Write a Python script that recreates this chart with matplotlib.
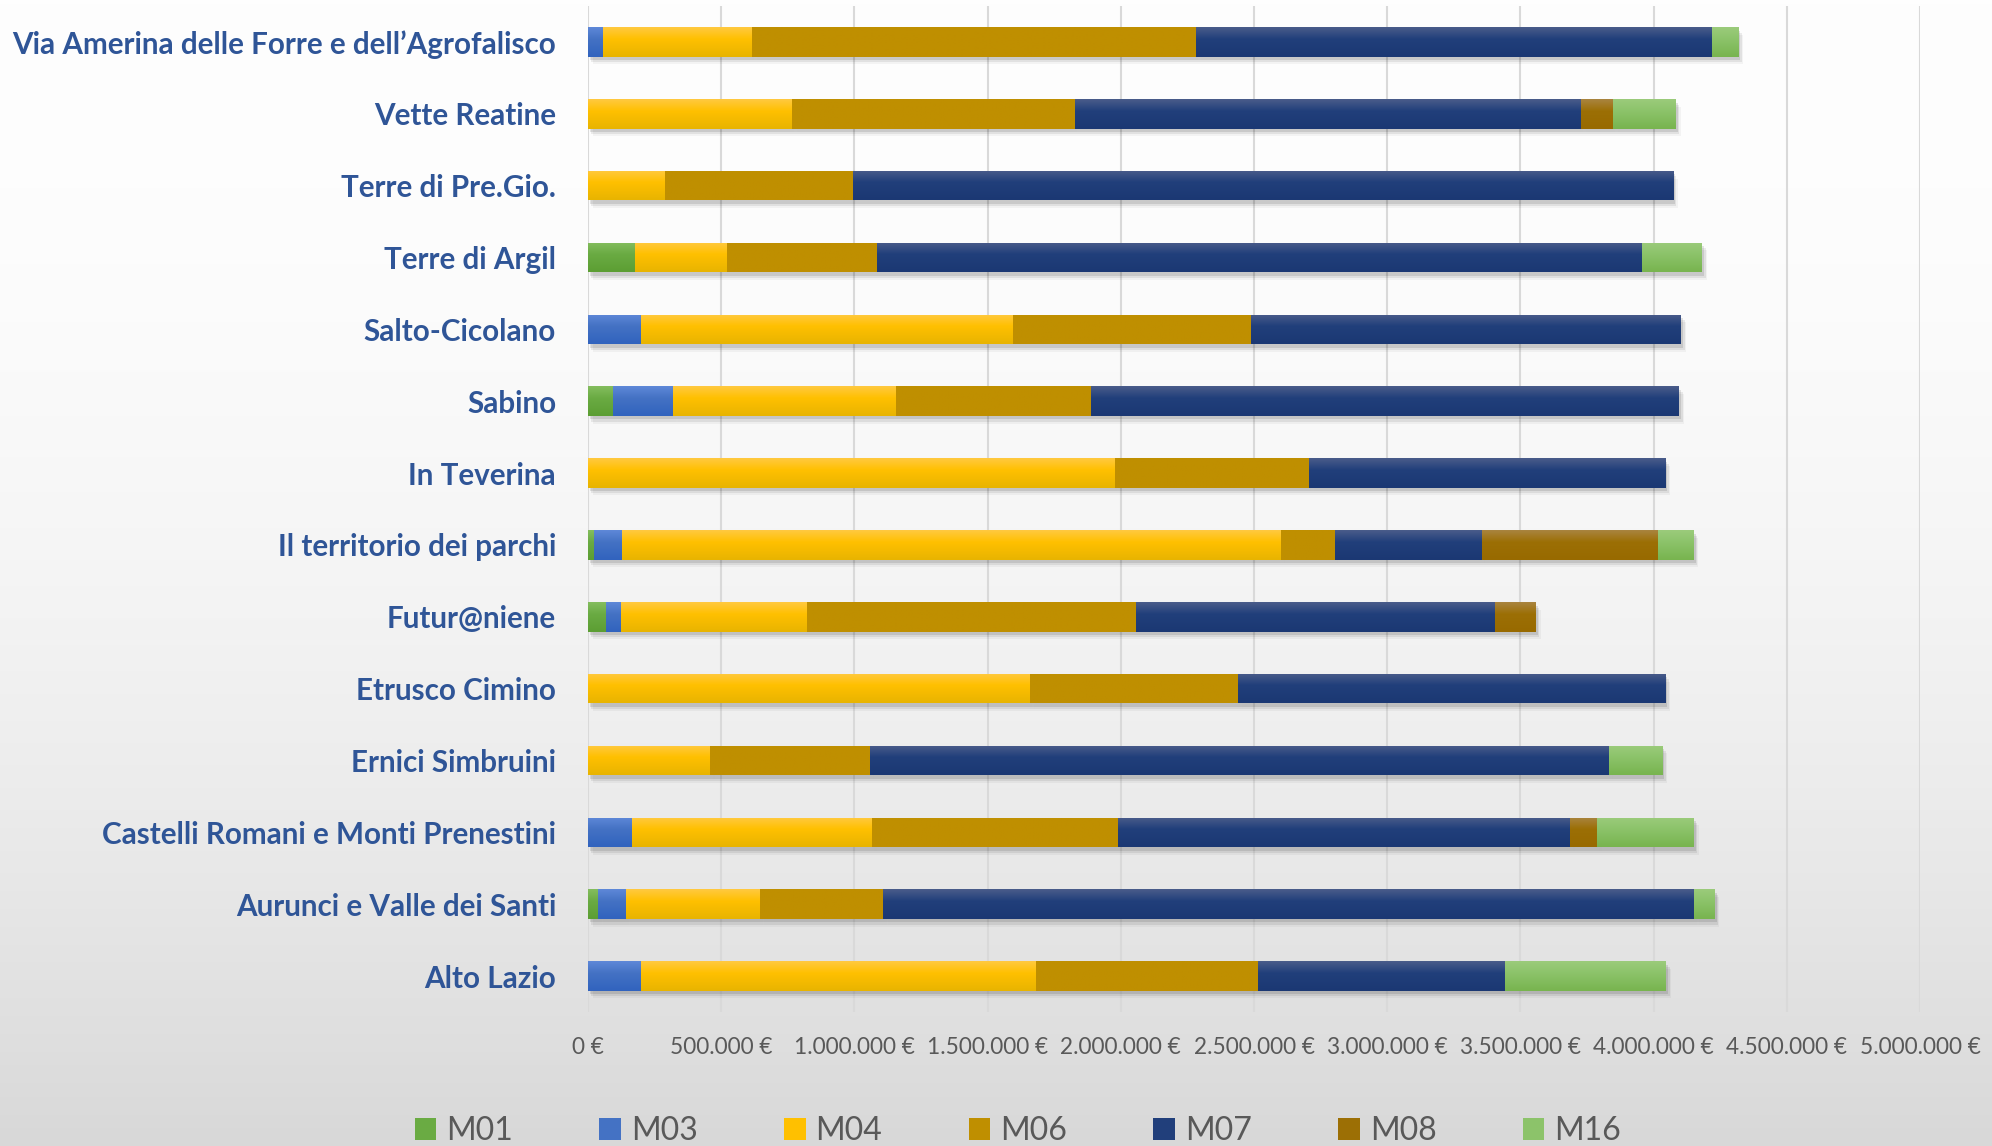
import numpy as np
import matplotlib
matplotlib.use('Agg')
import matplotlib.pyplot as plt
import matplotlib.patheffects as pe
from matplotlib.colors import LinearSegmentedColormap
from matplotlib.patches import Patch
from matplotlib.ticker import FuncFormatter

# GAL areas, listed bottom to top
regions = ['Alto Lazio', 'Aurunci e Valle dei Santi', 'Castelli Romani e Monti Prenestini',
           'Ernici Simbruini', 'Etrusco Cimino', 'Futur@niene', 'Il territorio dei parchi',
           'In Teverina', 'Sabino', 'Salto-Cicolano', 'Terre di Argil', 'Terre di Pre.Gio.',
           'Vette Reatine', 'Via Amerina delle Forre e dell\u2019Agrofalisco']

# amounts per measure (EUR)
M01 = [0, 38000, 0, 0, 0, 69000, 23000, 0, 95000, 0, 175000, 0, 0, 0]
M03 = [198000, 103000, 164000, 0, 0, 54000, 104000, 0, 224000, 198000, 0, 0, 0, 56000]
M04 = [1482000, 503000, 902000, 457000, 1660000, 698000, 2476000, 1979000, 839000, 1399000, 348000, 290000, 767000, 560000]
M06 = [836000, 465000, 922000, 600000, 781000, 1235000, 201000, 727000, 732000, 893000, 563000, 703000, 1060000, 1666000]
M07 = [928000, 3042000, 1700000, 2774000, 1603000, 1350000, 551000, 1338000, 2206000, 1614000, 2872000, 3079000, 1901000, 1936000]
M08 = [0, 0, 101000, 0, 0, 152000, 663000, 0, 0, 0, 0, 0, 121000, 0]
M16 = [603000, 78000, 362000, 201000, 0, 0, 132000, 0, 0, 0, 224000, 0, 235000, 100000]

series = [('M01', M01), ('M03', M03), ('M04', M04), ('M06', M06),
          ('M07', M07), ('M08', M08), ('M16', M16)]

# top / middle / bottom shades for each measure
shades = {
    'M01': ('#84BD5E', '#6AAB43', '#5C9E33'),
    'M03': ('#5E88D8', '#4472C4', '#3163BE'),
    'M04': ('#FFC940', '#FFC000', '#E8B400'),
    'M06': ('#BF8F00', '#BF8F00', '#BF8F00'),
    'M07': ('#4A5C8A', '#213F7B', '#1B3873'),
    'M08': ('#A9843F', '#9C6F05', '#986A00'),
    'M16': ('#9BCB7B', '#8CC36A', '#78B44F'),
}

fig = plt.figure(figsize=(19.92, 11.46), dpi=100)

# soft vertical background fade
bg = fig.add_axes([0, 0, 1, 1], zorder=-1)
t = np.linspace(0, 1, 256)[:, None]
vals = (254 - 38 * t ** 2) / 255.0
bg.imshow(np.dstack([vals, vals, vals]), aspect='auto', extent=[0, 1, 0, 1])
bg.axis('off')

ax = fig.add_axes([588 / 1992, 1 - 1012 / 1146, (1920 - 588) / 1992, (1012 - 6) / 1146])
ax.set_facecolor('none')

y = np.arange(len(regions))
h = 0.41
left = np.zeros(len(regions))
shadow = [pe.SimplePatchShadow(offset=(1.5, -2.5), shadow_rgbFace='k', alpha=0.10),
          pe.SimplePatchShadow(offset=(2.5, -4.0), shadow_rgbFace='k', alpha=0.07),
          pe.SimplePatchShadow(offset=(3.5, -5.5), shadow_rgbFace='k', alpha=0.04),
          pe.Normal()]
grad = np.linspace(0, 1, 64)[:, None]
for name, vals_s in series:
    vals_s = np.array(vals_s, dtype=float)
    top, mid, bot = shades[name]
    cmap = LinearSegmentedColormap.from_list(name, [(0, top), (0.4, mid), (1, bot)])
    bars = ax.barh(y, vals_s, height=h, left=left, color=mid, linewidth=0, zorder=2)
    for rect, v, yy, l in zip(bars, vals_s, y, left):
        if v <= 0:
            continue
        rect.set_path_effects(shadow)
        im = ax.imshow(grad, cmap=cmap, aspect='auto', origin='upper',
                       extent=[l, l + v, yy - h / 2, yy + h / 2], zorder=3,
                       interpolation='bilinear')
        im.set_clip_path(rect)
    left = left + vals_s

ax.set_xlim(0, 5000000)
ax.set_ylim(-0.5, len(regions) - 0.5)
ax.set_xticks(np.arange(0, 5000001, 500000))
ax.xaxis.set_major_formatter(FuncFormatter(lambda v, p: f"{int(v):,}".replace(',', '.') + ' \u20ac'))
ax.set_yticks(y)
ax.set_yticklabels(regions, fontfamily='Lato', fontweight='bold', fontsize=21.3, color='#2F5597')
ax.tick_params(axis='y', length=0, pad=23)
ax.tick_params(axis='x', length=0, pad=18, labelsize=16.3, labelcolor='#595959')
for lab in ax.get_xticklabels():
    lab.set_fontfamily('Lato')
ax.grid(axis='x', color='#D9D9D9', linewidth=1.5, zorder=0)
ax.set_axisbelow(True)
for s in ax.spines.values():
    s.set_visible(False)

handles = [Patch(facecolor=shades[n][1], edgecolor='none') for n, _ in series]
leg = fig.legend(handles, [n for n, _ in series], loc='center', bbox_to_anchor=(0.511, 1 - 1131 / 1146),
                 ncol=7, frameon=False, prop={'family': 'Lato', 'size': 23},
                 handlelength=0.68, handleheight=0.68, handletextpad=0.31, columnspacing=2.7)
for txt in leg.get_texts():
    txt.set_color('#595959')

fig.savefig('out.png', dpi=100)
